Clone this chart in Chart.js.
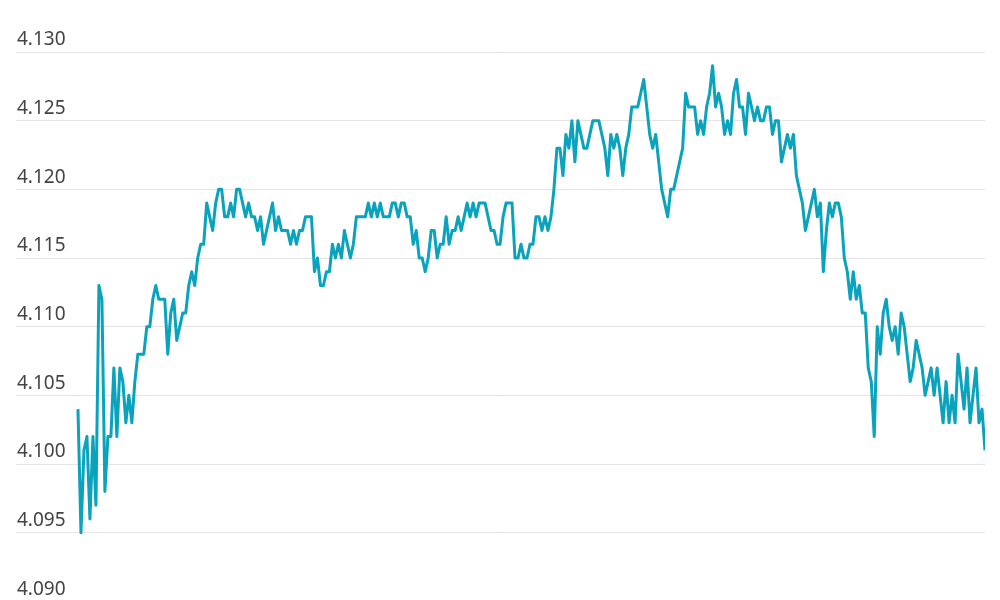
<!DOCTYPE html>
<html>
<head>
<meta charset="utf-8">
<script src="https://cdn.jsdelivr.net/npm/chart.js@4.4.0/dist/chart.umd.min.js"></script>
<style>
    html, body { margin: 0; padding: 0; background: #fff; }
</style>
</head>
<body>
<canvas id="rateChart" width="1000" height="600"></canvas>
<script>
/* quotes, one per step */
var prices = [
    4.104,4.095,4.101,4.102,4.096,4.102,4.097,4.113,4.112,4.098,
    4.102,4.102,4.107,4.102,4.107,4.106,4.103,4.105,4.103,4.106,
    4.108,4.108,4.108,4.110,4.110,4.112,4.113,4.112,4.112,4.112,
    4.108,4.111,4.112,4.109,4.110,4.111,4.111,4.113,4.114,4.113,
    4.115,4.116,4.116,4.119,4.118,4.117,4.119,4.120,4.120,4.118,
    4.118,4.119,4.118,4.120,4.120,4.119,4.118,4.119,4.118,4.118,
    4.117,4.118,4.116,4.117,4.118,4.119,4.117,4.118,4.117,4.117,
    4.117,4.116,4.117,4.116,4.117,4.117,4.118,4.118,4.118,4.114,
    4.115,4.113,4.113,4.114,4.114,4.116,4.115,4.116,4.115,4.117,
    4.116,4.115,4.116,4.118,4.118,4.118,4.118,4.119,4.118,4.119,
    4.118,4.119,4.118,4.118,4.118,4.119,4.119,4.118,4.119,4.119,
    4.118,4.118,4.116,4.117,4.115,4.115,4.114,4.115,4.117,4.117,
    4.115,4.116,4.116,4.118,4.116,4.117,4.117,4.118,4.117,4.118,
    4.119,4.118,4.119,4.118,4.119,4.119,4.119,4.118,4.117,4.117,
    4.116,4.116,4.118,4.119,4.119,4.119,4.115,4.115,4.116,4.115,
    4.115,4.116,4.116,4.118,4.118,4.117,4.118,4.117,4.118,4.120,
    4.123,4.123,4.121,4.124,4.123,4.125,4.122,4.125,4.124,4.123,
    4.123,4.124,4.125,4.125,4.125,4.124,4.123,4.121,4.124,4.123,
    4.124,4.123,4.121,4.123,4.124,4.126,4.126,4.126,4.127,4.128,
    4.126,4.124,4.123,4.124,4.122,4.120,4.119,4.118,4.120,4.120,
    4.121,4.122,4.123,4.127,4.126,4.126,4.126,4.124,4.125,4.124,
    4.126,4.127,4.129,4.126,4.127,4.126,4.124,4.125,4.124,4.127,
    4.128,4.126,4.126,4.124,4.127,4.126,4.125,4.126,4.125,4.125,
    4.126,4.126,4.124,4.125,4.125,4.122,4.123,4.124,4.123,4.124,
    4.121,4.120,4.119,4.117,4.118,4.119,4.120,4.118,4.119,4.114,
    4.117,4.119,4.118,4.119,4.119,4.118,4.115,4.114,4.112,4.114,
    4.112,4.113,4.111,4.111,4.107,4.106,4.102,4.110,4.108,4.111,
    4.112,4.110,4.109,4.110,4.108,4.111,4.110,4.108,4.106,4.107,
    4.109,4.108,4.107,4.105,4.106,4.107,4.105,4.107,4.105,4.103,
    4.106,4.103,4.105,4.103,4.108,4.106,4.104,4.107,4.103,4.105,
    4.107,4.103,4.104,4.101
];

/* y axis labels */
var yTicks = [4.090, 4.095, 4.100, 4.105, 4.110, 4.115, 4.120, 4.125, 4.130];

/* the axis starts a bit before the first quote */
var leadSteps = 20.7;

var points = prices.map(function(p, i) {
    return { x: i, y: p };
});

var ctx = document.getElementById("rateChart");
var rateChart = new Chart(ctx, {
    type: 'line',
    data: {
        datasets: [{
            data: points,
            borderColor: "#0aa3bd",
            borderWidth: 3,
            borderJoinStyle: 'round',
            pointRadius: 0,
            tension: 0,
            fill: false
        }]
    },
    options: {
        responsive: false,
        animation: false,
        layout: {
            padding: { top: 52, left: 14, right: 15, bottom: 0 }
        },
        plugins: {
            legend: { display: false },
            tooltip: { enabled: false }
        },
        scales: {
            x: {
                type: 'linear',
                display: false,
                min: -leadSteps,
                max: prices.length - 1
            },
            y: {
                min: 4.0901,
                max: 4.130,
                afterBuildTicks: function(scale) {
                    scale.ticks = yTicks.map(function(v) { return { value: v }; });
                },
                afterFit: function(scale) {
                    // labels sit above their lines, no need for extra room
                    scale.paddingTop = 0;
                    scale.paddingBottom = 0;
                },
                border: { display: false },
                grid: {
                    color: "#e4e4e4",
                    lineWidth: 1,
                    drawTicks: false
                },
                ticks: {
                    mirror: true,
                    padding: 1,
                    labelOffset: -12,
                    color: "#444444",
                    font: { family: "'Noto Sans'", size: 19 },
                    callback: function(v) { return Number(v).toFixed(3); }
                }
            }
        }
    }
});
</script>
</body>
</html>
